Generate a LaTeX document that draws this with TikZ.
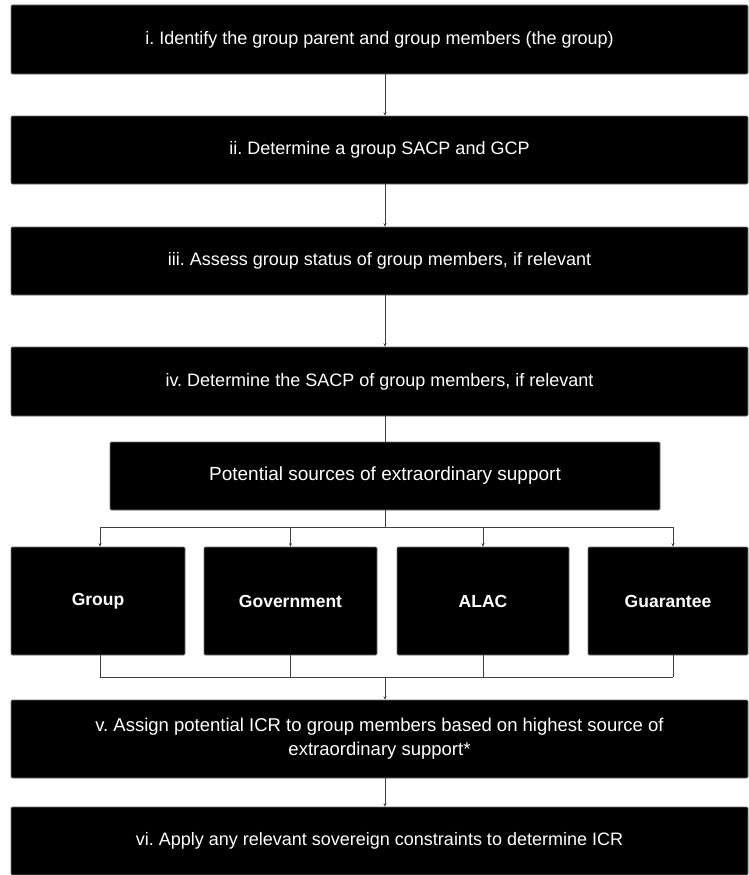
\documentclass[tikz,border=0pt]{standalone}
\usepackage{fontspec}
\setmainfont{Liberation Sans}
\usetikzlibrary{arrows.meta}
\frenchspacing
\begin{document}
\begin{tikzpicture}[x=1pt,y=-1pt,
  box/.style={fill=black,draw=black!55,line width=0.6pt,rounded corners=1.2pt,text=white,
    inner sep=0pt,align=center,font=\fontsize{18}{24}\selectfont},
  srcbox/.style={box,font=\fontsize{17.5}{21}\bfseries},
  conn/.style={draw=black!75,line width=0.6pt},
  arr/.style={conn,-{Stealth[length=3.5pt,width=3pt]}}]
\useasboundingbox (0,0) rectangle (748,875);
\node[box,minimum width=737pt,minimum height=69pt] (b1) at (379.5,39.5) {i. Identify the group parent and group members (the group)};
\node[box,minimum width=737pt,minimum height=68pt] (b2) at (379.5,150) {ii. Determine a group SACP and GCP};
\node[box,minimum width=737pt,minimum height=68pt] (b3) at (379.5,261) {iii. Assess group status of group members, if relevant};
\node[box,minimum width=737pt,minimum height=69pt] (b4) at (379.5,381.5) {iv. Determine the SACP of group members, if relevant};
\node[box,minimum width=550pt,minimum height=68pt,font=\fontsize{19}{24}\selectfont] (p) at (385,476) {Potential sources of extraordinary support};
\node[srcbox,minimum width=174pt,minimum height=108pt] (g1) at (98,601) {Group};
\node[srcbox,minimum width=173pt,minimum height=108pt] (g2) at (290.5,601) {Government};
\node[srcbox,minimum width=172pt,minimum height=108pt] (g3) at (483,601) {ALAC};
\node[srcbox,minimum width=160pt,minimum height=108pt] (g4) at (668,601) {Guarantee};
\node[box,minimum width=737pt,minimum height=78pt,font=\fontsize{18.5}{24}\selectfont] (b5) at (379.5,739) {v. Assign potential ICR to group members based on highest source of\\extraordinary support*};
\node[box,minimum width=737pt,minimum height=68pt] (b6) at (379.5,841) {vi. Apply any relevant sovereign constraints to determine ICR};
\coordinate (mid) at (385,0);
\coordinate (tl) at (100,527);
\coordinate (tr) at (673,527);
\coordinate (bl) at (100,677);
\coordinate (br) at (673,677);
\draw[arr] (b1.south -| mid) -- (b2.north -| mid);
\draw[arr] (b2.south -| mid) -- (b3.north -| mid);
\draw[arr] (b3.south -| mid) -- (b4.north -| mid);
\draw[conn] (b4.south -| mid) -- (p.north);
\draw[conn] (p.south) -- (p.south |- tl);
\draw[conn] (tl) -- (tr);
\draw[arr] (tl) -- (g1.north -| tl);
\draw[arr] (g2.north |- tl) -- (g2.north);
\draw[arr] (g3.north |- tl) -- (g3.north);
\draw[arr] (tr) -- (g4.north -| tr);
\draw[conn] (g1.south -| bl) -- (bl);
\draw[conn] (g2.south) -- (g2.south |- bl);
\draw[conn] (g3.south) -- (g3.south |- bl);
\draw[conn] (g4.south -| br) -- (br);
\draw[conn] (bl) -- (br);
\draw[arr] (bl -| mid) -- (b5.north -| mid);
\draw[arr] (b5.south -| mid) -- (b6.north -| mid);
\end{tikzpicture}
\end{document}
